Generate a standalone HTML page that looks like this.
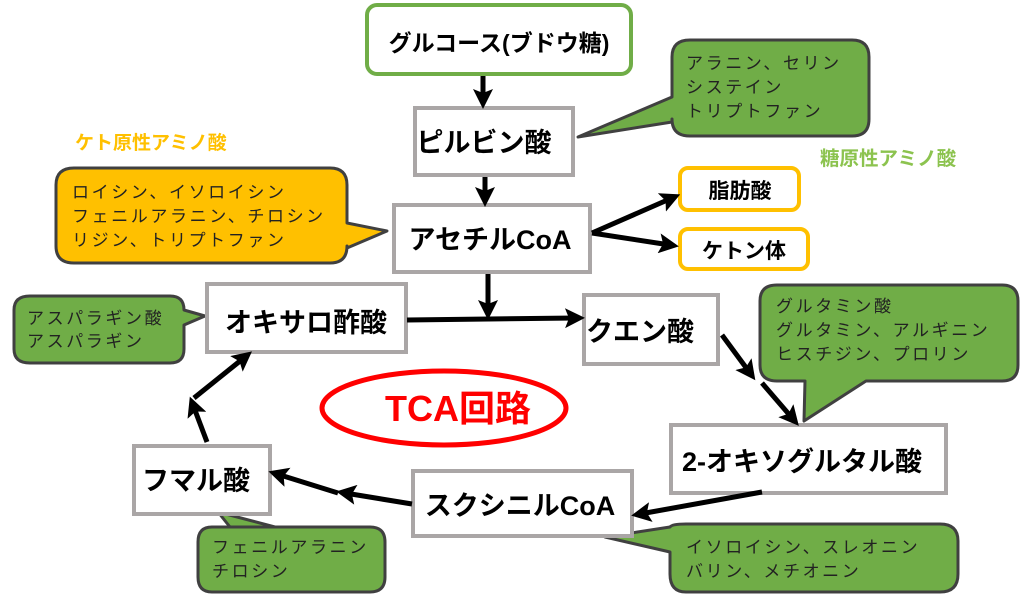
<!DOCTYPE html>
<html><head><meta charset="utf-8"><style>
html,body{margin:0;padding:0;background:#fff;}
svg{display:block;}
text{font-family:"Liberation Sans","Noto Sans CJK JP",sans-serif;}
.b{font-weight:bold;font-size:27px;fill:#000;}
.s{font-size:17px;fill:#222;letter-spacing:2.6px;}
</style></head><body>
<svg width="1024" height="601" viewBox="0 0 1024 601" xmlns="http://www.w3.org/2000/svg">
<defs>
<marker id="ah" markerWidth="4" markerHeight="4" refX="2.2" refY="2" orient="auto" markerUnits="strokeWidth">
<path d="M0,0 L4,2 L0,4 L0.8,2 z" fill="#000"/></marker>
</defs>

<g stroke="#404040" stroke-width="3" stroke-linejoin="round">
<path d="M690,40 H852 Q869,40 869,57 V119 Q869,136 852,136 H690 Q672,136 672,119 V122 L578,137 L672,97 V57 Q672,40 690,40 Z" fill="#70ad47"/>
<path d="M74,168 H330 Q347,168 347,185 V223 L387,231 L347,248 V246 Q347,263 330,263 H74 Q56,263 56,246 V185 Q56,168 74,168 Z" fill="#ffc000"/>
<path d="M30,296 H170 Q184,296 184,310 V310 L205,316 L184,325 V349 Q184,363 170,363 H30 Q14,363 14,349 V310 Q14,296 30,296 Z" fill="#70ad47"/>
<path d="M777,285 H1002 Q1018,285 1018,301 V365 Q1018,381 1002,381 H866 L804,421 L805,381 H777 Q760,381 760,365 V301 Q760,285 777,285 Z" fill="#70ad47"/>
<path d="M686,524 H940 Q958,524 958,541 V574 Q958,592 940,592 H686 Q670,592 670,574 V552 L605,537 L670,527 Q672,524 686,524 Z" fill="#70ad47"/>
<path d="M212,527 H370 Q385,527 385,542 V577 Q385,592 370,592 H212 Q198,592 198,577 V542 Q198,527 212,527 H230 L218,512 L275,527 Z" fill="#70ad47"/>
</g>

<g>
<text x="686" y="69" class="s">アラニン、セリン</text>
<text x="686" y="93" class="s">システイン</text>
<text x="686" y="117" class="s">トリプトファン</text>
<text x="72" y="198" class="s">ロイシン、イソロイシン</text>
<text x="72" y="222" class="s">フェニルアラニン、チロシン</text>
<text x="72" y="246" class="s">リジン、トリプトファン</text>
<text x="27" y="324" class="s">アスパラギン酸</text>
<text x="27" y="347" class="s">アスパラギン</text>
<text x="776" y="312" class="s">グルタミン酸</text>
<text x="776" y="336" class="s">グルタミン、アルギニン</text>
<text x="776" y="360" class="s">ヒスチジン、プロリン</text>
<text x="686" y="553" class="s">イソロイシン、スレオニン</text>
<text x="686" y="577" class="s">バリン、メチオニン</text>
<text x="212" y="553" class="s">フェニルアラニン</text>
<text x="212" y="577" class="s">チロシン</text>
</g>

<text x="75" y="149" font-size="19" font-weight="bold" fill="#ffc000">ケト原性アミノ酸</text>
<text x="820" y="165" font-size="19.5" font-weight="bold" fill="#8cc34f">糖原性アミノ酸</text>

<rect x="367" y="5" width="264" height="69" rx="10" fill="#fff" stroke="#70ad47" stroke-width="4"/>
<text x="499" y="51" text-anchor="middle" font-size="23" font-weight="bold">グルコース(ブドウ糖)</text>

<g fill="#fff" stroke="#aaa6a6" stroke-width="4">
<rect x="415" y="108" width="158" height="67"/>
<rect x="394" y="205" width="196" height="67"/>
<rect x="207" y="284" width="199" height="68"/>
<rect x="584" y="295" width="134" height="69"/>
<rect x="671" y="425" width="275" height="68"/>
<rect x="413" y="471" width="219" height="65"/>
<rect x="134" y="446" width="136" height="68"/>
</g>
<rect x="680" y="168" width="119" height="42" rx="8" fill="#fff" stroke="#ffc000" stroke-width="4"/>
<rect x="680" y="229" width="128" height="40" rx="8" fill="#fff" stroke="#ffc000" stroke-width="4"/>

<text x="484" y="152" text-anchor="middle" class="b">ピルビン酸</text>
<text x="490" y="249" text-anchor="middle" class="b">アセチルCoA</text>
<text x="306" y="332" text-anchor="middle" class="b">オキサロ酢酸</text>
<text x="640" y="341" text-anchor="middle" class="b">クエン酸</text>
<text x="802" y="471" text-anchor="middle" class="b">2-オキソグルタル酸</text>
<text x="520" y="515" text-anchor="middle" class="b">スクシニルCoA</text>
<text x="196" y="490" text-anchor="middle" class="b">フマル酸</text>
<text x="740" y="198" text-anchor="middle" font-size="21" font-weight="bold">脂肪酸</text>
<text x="744" y="258" text-anchor="middle" font-size="21" font-weight="bold">ケトン体</text>

<ellipse cx="444" cy="408" rx="122" ry="37" fill="none" stroke="#ff0000" stroke-width="5"/>
<text x="458" y="421" text-anchor="middle" font-size="36" font-weight="bold" fill="#ff0000">TCA回路</text>

<g stroke="#000" stroke-width="5" fill="none" marker-end="url(#ah)">
<line x1="483" y1="76" x2="483" y2="100"/>
<line x1="485" y1="177" x2="485" y2="198"/>
<line x1="592" y1="233" x2="672" y2="198"/>
<line x1="592" y1="233" x2="670" y2="245"/>
<line x1="488" y1="274" x2="488" y2="311"/>
<line x1="407" y1="320" x2="576" y2="318"/>
<line x1="722" y1="335" x2="750" y2="373"/>
<line x1="762" y1="383" x2="793" y2="419"/>
<line x1="762" y1="492" x2="640" y2="514"/>
<line x1="412" y1="504" x2="345" y2="493"/>
<line x1="338" y1="493" x2="277" y2="474"/>
<line x1="207" y1="442" x2="193" y2="405"/>
<line x1="194" y1="398" x2="245" y2="357"/>
</g>
</svg>
</body></html>
